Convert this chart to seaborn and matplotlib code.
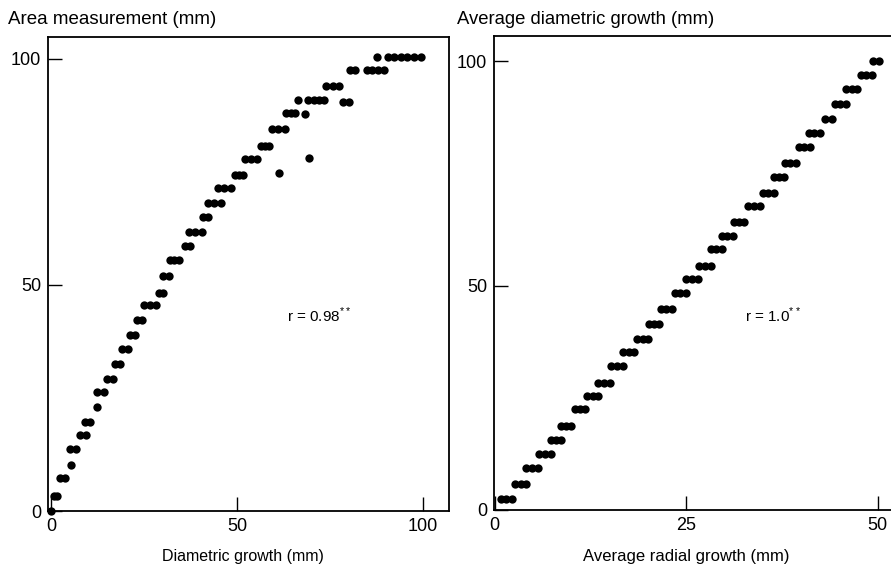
import pandas as pd
import matplotlib
matplotlib.use("Agg")
import matplotlib.pyplot as plt
import seaborn as sns

# --- data ---
# left: area measurement vs diametric growth, one y level per row of dots
area_levels = [0.0, 3.3, 7.3, 10.1, 13.6, 16.8, 19.7, 23.0, 26.3, 29.1, 32.6, 35.9,
               38.9, 42.2, 45.5, 48.3, 51.9, 55.4, 58.5, 61.6, 64.9, 68.2, 71.5,
               74.3, 74.7, 77.8, 78.0, 80.8, 84.4, 88.0, 87.7, 90.8, 94.0, 90.5,
               97.4, 100.4]
diam_growth = [[0.0], [0.7, 1.5], [2.5, 3.8], [5.3], [5.2, 6.7], [7.8, 9.4],
               [9.1, 10.6], [12.3], [12.5, 14.2], [15.1, 16.7], [17.3, 18.5],
               [19.2, 20.8], [21.2, 22.6], [23.1, 24.5], [24.9, 26.6, 28.3],
               [29.1, 30.0], [30.2, 31.7], [32.1, 33.2, 34.4], [35.9, 37.5],
               [37.0, 38.7, 40.5], [41.0, 42.1], [42.1, 43.8, 45.6],
               [44.8, 46.5, 48.3], [49.5, 50.6, 51.7], [61.4], [52.2, 53.8, 55.5],
               [69.4], [56.5, 57.6, 58.7], [59.4, 61.1, 62.9], [63.3, 64.5, 65.7],
               [68.2], [66.5, 69.2, 70.6, 72.0, 73.5], [73.9, 75.7, 77.4],
               [78.6, 80.1], [80.5, 81.8, 84.9, 86.4, 87.9, 89.4],
               [87.6, 90.5, 92.3, 94.0, 95.8, 97.6, 99.4]]

# right: average diametric growth vs average radial growth
avg_diam_levels = [2.4, 5.9, 9.3, 12.4, 15.6, 18.7, 22.4, 25.4, 28.4, 32.1, 35.1,
                   38.2, 41.4, 44.7, 48.3, 51.4, 54.4, 58.1, 61.1, 64.2, 67.7,
                   70.7, 74.1, 77.4, 80.8, 84.1, 87.2, 90.4, 93.7, 96.9, 100.0]
radial_growth = [[0.8, 1.5, 2.3], [2.7, 3.4, 4.1], [4.1, 4.8, 5.6], [5.8, 6.5, 7.3],
                 [7.3, 8.0, 8.7], [8.6, 9.3, 10.0], [10.5, 11.1, 11.8],
                 [12.1, 12.8, 13.5], [13.5, 14.3, 15.0], [15.2, 15.9, 16.7],
                 [16.8, 17.5, 18.2], [18.6, 19.3, 20.0], [20.1, 20.8, 21.4],
                 [21.7, 22.4, 23.1], [23.5, 24.2, 24.9], [25.0, 25.8, 26.5],
                 [26.7, 27.4, 28.2], [28.2, 28.9, 29.6], [29.6, 30.3, 31.1],
                 [31.2, 31.9, 32.6], [33.1, 33.9, 34.6], [35.0, 35.7, 36.4],
                 [36.4, 37.1, 37.8], [37.9, 38.6, 39.3], [39.7, 40.4, 41.1],
                 [41.0, 41.7, 42.4], [43.1, 44.0], [44.4, 45.1, 45.8],
                 [45.9, 46.6, 47.3], [47.8, 48.5, 49.2], [49.4, 50.2]]

left_ticks = [0, 50, 100]
right_xticks = [0, 25, 50]
right_yticks = [0, 50, 100]


def to_frame(levels, xs, xname, yname):
    rows = []
    for y, row in zip(levels, xs):
        for x in row:
            rows.append({xname: x, yname: y})
    return pd.DataFrame(rows)


area_df = to_frame(area_levels, diam_growth, "diam", "area")
radial_df = to_frame(avg_diam_levels, radial_growth, "radial", "avgdiam")

sns.set_style("white")
plt.rcParams["font.family"] = ["Liberation Sans", "DejaVu Sans"]
plt.rcParams["mathtext.fontset"] = "custom"
plt.rcParams["mathtext.rm"] = "Liberation Sans"
plt.rcParams["text.color"] = "black"

W, H = 891, 569
fig = plt.figure(figsize=(W / 100, H / 100), dpi=100)
ax1 = fig.add_axes([48 / W, 1 - 511 / H, 401 / W, 474 / H])
ax2 = fig.add_axes([494 / W, 1 - 510 / H, 406 / W, 474 / H])

sns.scatterplot(data=area_df, x="diam", y="area", ax=ax1, color="black",
                s=36, linewidth=0, clip_on=False)
sns.scatterplot(data=radial_df, x="radial", y="avgdiam", ax=ax2, color="black",
                s=36, linewidth=0, clip_on=False)

ax1.set_xlim(-0.8, 107.0)
ax1.set_ylim(0, 104.8)
ax1.set_xticks(left_ticks)
ax1.set_yticks(left_ticks)

ax2.set_xlim(-0.1, 52.9)
ax2.set_ylim(0, 105.6)
ax2.set_xticks(right_xticks)
ax2.set_yticks(right_yticks)

for ax in (ax1, ax2):
    ax.set_xlabel("")
    ax.set_ylabel("")
    ax.tick_params(direction="in", length=10, width=1, color="black",
                   labelcolor="black", labelsize=13, pad=5,
                   bottom=True, left=True)
    for sp in ax.spines.values():
        sp.set_color("black")
        sp.set_linewidth(1.3)

ax1.text(63.4, 41.7, r"r = 0.98$^{**}$", fontsize=11)
ax2.text(32.7, 41.9, r"r = 1.0$^{**}$", fontsize=11)

fig.text(8 / W, 1 - 20 / H, "Area measurement (mm)", fontsize=13.5, va="center")
fig.text(457 / W, 1 - 20 / H, "Average diametric growth (mm)", fontsize=13.3, va="center")
fig.text(243 / W, 1 - 557 / H, "Diametric growth (mm)", fontsize=11.5,
         ha="center", va="center")
fig.text(686 / W, 1 - 557 / H, "Average radial growth (mm)", fontsize=12,
         ha="center", va="center")

fig.savefig("out.png", dpi=100)
